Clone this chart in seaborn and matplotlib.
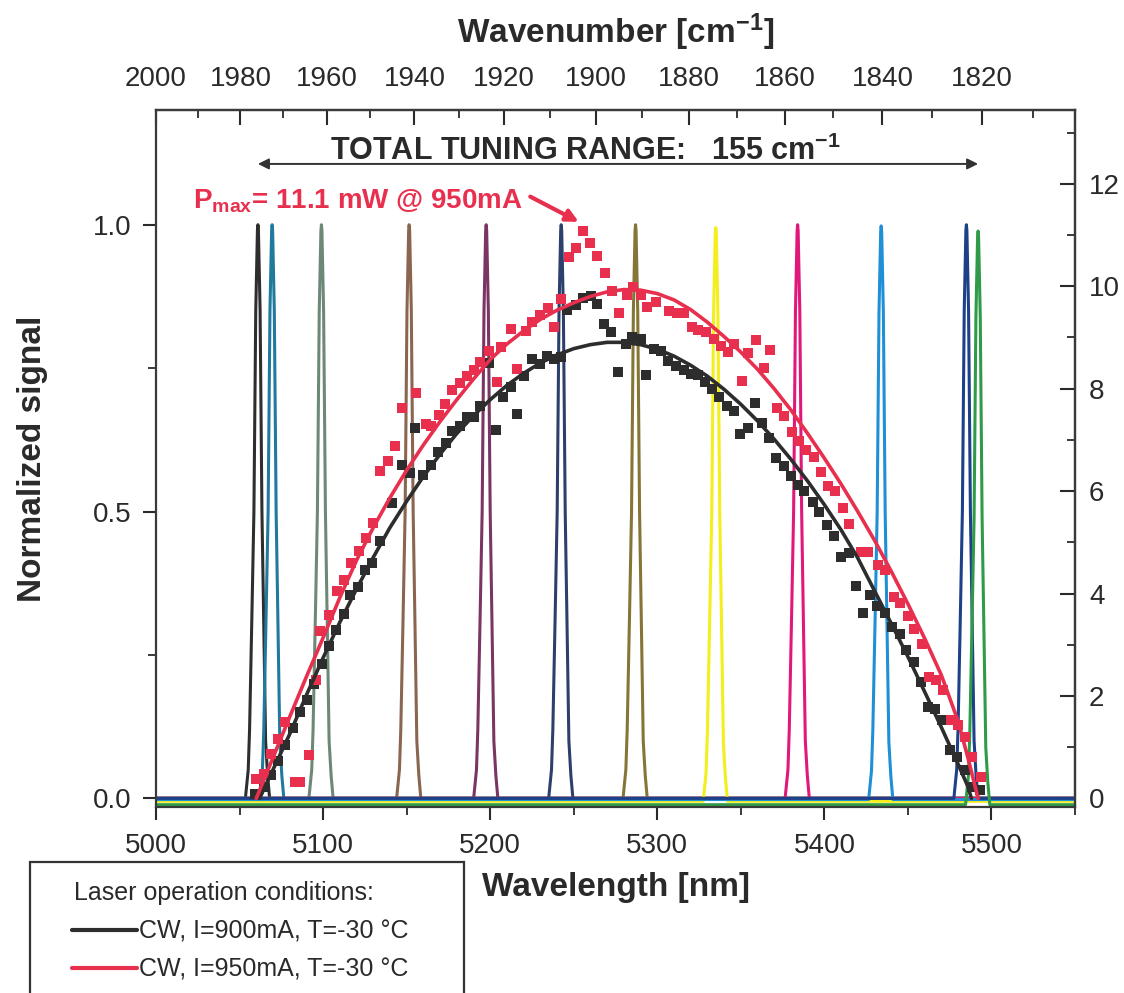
import numpy as np
import pandas as pd
import matplotlib
matplotlib.use("Agg")
import matplotlib.pyplot as plt
import seaborn as sns
from matplotlib.ticker import FixedLocator, MultipleLocator, FormatStrFormatter
from matplotlib.lines import Line2D
from matplotlib.patches import Rectangle

# ---------------- data ----------------
# emission spectra (normalized) : peak centres [nm] and colours
PEAK_CENTERS = [5061, 5069.5, 5099, 5151.5, 5197.6, 5242.5, 5287, 5335, 5384, 5434, 5485, 5492]
PEAK_COLORS = ["#2e2e2e", "#1f7a9e", "#6e8878", "#8a6650", "#7a3562", "#2d3f6c",
               "#857536", "#f4ee1c", "#e0187c", "#1f8fd6", "#1d4088", "#2f9a48"]
PEAK_BASELINES = [0.0, 0.0, 0.0, 0.0, 0.0, 0.0, 0.0, -0.005, 0.0, -0.002, 0.0, -0.011]
PROFILE_OFFSETS = [-7.5, -5.8, -5.0, -3.6, -2.4, -1.3, -0.3, 0.0, 0.3, 1.3, 2.4, 3.4, 4.6, 5.8, 7.0]
PROFILE_VALUES = [0.0, 0.05, 0.12, 0.32, 0.50, 0.85, 0.99, 1.0, 0.99, 0.85, 0.50, 0.32, 0.10, 0.04, 0.0]

# output power data points, CW, I=900mA (normalized)
PTS900_WL = [5059.4, 5064.4, 5068.8, 5073.3, 5077.3, 5081.9, 5085.9, 5090.3, 5094.8, 5099.3,
             5103.3, 5107.7, 5112.3, 5116.3, 5120.8, 5125.2, 5129.2, 5134.3, 5141.3, 5147.3,
             5151.9, 5155.3, 5159.9, 5164.3, 5168.7, 5173.3, 5177.3, 5181.9, 5186.3, 5190.2,
             5193.8, 5199.2, 5203.2, 5207.8, 5212.2, 5216.2, 5220.2, 5225.2, 5229.8, 5233.8,
             5238.2, 5242.2, 5246.2, 5251.1, 5255.8, 5260.2, 5264.1, 5268.1, 5272.1, 5276.5,
             5281.1, 5285.1, 5290.1, 5293.5, 5298.1, 5302.2, 5306.5, 5311.1, 5315.8, 5320.1,
             5324.5, 5328.5, 5332.5, 5337.1, 5341.5, 5345.7, 5349.6, 5354.0, 5358.5, 5362.4,
             5367.1, 5371.1, 5375.7, 5380.1, 5384.1, 5388.1, 5393.1, 5397.0, 5401.7, 5405.7,
             5410.1, 5415.0, 5419.1, 5423.0, 5427.6, 5431.7, 5436.5, 5440.4, 5445.0, 5449.0,
             5453.6, 5458.0, 5462.0, 5466.0, 5470.4, 5475.0, 5479.6, 5484.0, 5488.4, 5493.0]
PTS900_SIG = [0.008, 0.020, 0.040, 0.066, 0.093, 0.122, 0.151, 0.172, 0.200, 0.235,
              0.266, 0.294, 0.321, 0.355, 0.369, 0.399, 0.410, 0.448, 0.515, 0.582,
              0.568, 0.645, 0.564, 0.582, 0.603, 0.620, 0.640, 0.650, 0.664, 0.665,
              0.684, 0.759, 0.643, 0.699, 0.717, 0.670, 0.737, 0.766, 0.757, 0.772,
              0.766, 0.769, 0.852, 0.860, 0.872, 0.875, 0.862, 0.827, 0.813, 0.743,
              0.792, 0.804, 0.801, 0.738, 0.783, 0.780, 0.763, 0.754, 0.747, 0.740,
              0.738, 0.725, 0.713, 0.699, 0.684, 0.675, 0.635, 0.646, 0.690, 0.654,
              0.629, 0.594, 0.580, 0.562, 0.547, 0.536, 0.516, 0.500, 0.476, 0.457,
              0.421, 0.428, 0.371, 0.323, 0.355, 0.336, 0.323, 0.298, 0.287, 0.259,
              0.238, 0.203, 0.160, 0.155, 0.136, 0.085, 0.072, 0.049, 0.019, 0.015]

# output power data points, CW, I=950mA (normalized)
PTS950_WL = [5060.0, 5064.7, 5068.8, 5073.0, 5077.3, 5083.3, 5086.3, 5091.3, 5095.9, 5098.3,
             5103.3, 5108.3, 5112.7, 5116.9, 5121.3, 5125.9, 5129.9, 5134.3, 5138.9, 5142.9,
             5147.3, 5155.9, 5161.3, 5164.7, 5169.3, 5172.9, 5177.3, 5181.9, 5186.3, 5190.2,
             5194.2, 5199.2, 5204.2, 5206.5, 5212.2, 5216.2, 5221.2, 5225.2, 5229.8, 5234.6,
             5238.2, 5242.6, 5247.2, 5251.1, 5255.8, 5259.7, 5264.1, 5268.5, 5273.1, 5277.1,
             5281.8, 5285.7, 5290.5, 5294.1, 5299.1, 5307.1, 5312.1, 5316.1, 5320.5, 5324.5,
             5329.1, 5333.7, 5338.1, 5342.1, 5346.1, 5350.5, 5354.5, 5359.1, 5363.7, 5367.7,
             5371.7, 5376.1, 5380.5, 5385.0, 5389.1, 5393.6, 5398.1, 5402.1, 5406.5, 5411.0,
             5415.0, 5422.1, 5426.0, 5431.9, 5436.3, 5441.5, 5445.5, 5449.9, 5453.9, 5458.4,
             5462.9, 5466.9, 5470.9, 5475.9, 5479.9, 5484.3, 5488.4, 5493.5]
PTS950_SIG = [0.034, 0.043, 0.078, 0.104, 0.133, 0.029, 0.029, 0.075, 0.206, 0.291,
              0.320, 0.361, 0.381, 0.410, 0.431, 0.454, 0.480, 0.570, 0.588, 0.614,
              0.680, 0.706, 0.652, 0.649, 0.668, 0.688, 0.712, 0.724, 0.737, 0.747,
              0.760, 0.780, 0.725, 0.787, 0.818, 0.748, 0.815, 0.830, 0.843, 0.855,
              0.821, 0.871, 0.944, 0.960, 0.989, 0.968, 0.945, 0.916, 0.885, 0.846,
              0.878, 0.892, 0.878, 0.856, 0.865, 0.850, 0.846, 0.846, 0.821, 0.817,
              0.813, 0.801, 0.788, 0.779, 0.792, 0.728, 0.776, 0.799, 0.750, 0.781,
              0.680, 0.667, 0.639, 0.623, 0.608, 0.595, 0.569, 0.545, 0.536, 0.507,
              0.479, 0.429, 0.429, 0.407, 0.399, 0.351, 0.340, 0.318, 0.295, 0.269,
              0.212, 0.206, 0.189, 0.136, 0.128, 0.107, 0.073, 0.037]

# fitted tuning curves
FIT900_WL = [5062, 5070, 5080, 5090, 5100, 5110, 5120, 5130, 5140, 5150, 5160, 5170, 5180,
             5190, 5200, 5210, 5220, 5230, 5240, 5250, 5260, 5270, 5280, 5290, 5300, 5310,
             5320, 5330, 5340, 5350, 5360, 5370, 5380, 5390, 5400, 5410, 5420, 5430, 5440,
             5450, 5460, 5470, 5480, 5486, 5488]
FIT900_SIG = [0.000, 0.050, 0.112, 0.180, 0.245, 0.307, 0.365, 0.420, 0.472, 0.518, 0.561, 0.600, 0.636,
              0.667, 0.695, 0.720, 0.741, 0.759, 0.773, 0.784, 0.791, 0.795, 0.795, 0.791, 0.783, 0.771,
              0.755, 0.736, 0.713, 0.687, 0.658, 0.626, 0.591, 0.553, 0.512, 0.468, 0.419, 0.362, 0.305,
              0.247, 0.186, 0.124, 0.060, 0.020, 0.000]
FIT950_WL = [5060, 5070, 5080, 5090, 5100, 5110, 5120, 5130, 5140, 5150, 5160, 5170, 5180,
             5190, 5200, 5210, 5220, 5230, 5240, 5250, 5260, 5270, 5280, 5290, 5300, 5310,
             5320, 5330, 5340, 5350, 5360, 5370, 5380, 5390, 5400, 5410, 5420, 5430, 5440,
             5450, 5460, 5470, 5480, 5486, 5492]
FIT950_SIG = [0.000, 0.071, 0.142, 0.212, 0.280, 0.350, 0.415, 0.472, 0.524, 0.572, 0.616, 0.657, 0.695,
              0.731, 0.765, 0.792, 0.815, 0.835, 0.851, 0.864, 0.875, 0.883, 0.887, 0.886, 0.880, 0.869,
              0.852, 0.830, 0.805, 0.778, 0.748, 0.714, 0.677, 0.636, 0.593, 0.548, 0.500, 0.450, 0.396,
              0.339, 0.279, 0.215, 0.135, 0.070, 0.000]

LEGEND_TITLE = "Laser operation conditions:"
LEGEND_LABELS = ["CW, I=900mA, T=-30 \u00b0C", "CW, I=950mA, T=-30 \u00b0C"]
WAVENUMBER_TICKS = [2000, 1980, 1960, 1940, 1920, 1900, 1880, 1860, 1840, 1820]
POWER_SCALE = 11.2  # mW per unit of normalized signal (right axis)

RED = "#e8304e"
DARK = "#2d2d2d"
TXT = "#2a2a2a"

# ---------------- style ----------------
sns.set_theme(style="white")
plt.rcParams["font.family"] = ["Liberation Sans", "DejaVu Sans"]
plt.rcParams["mathtext.fontset"] = "custom"
plt.rcParams["mathtext.rm"] = "Liberation Sans"
plt.rcParams["mathtext.bf"] = "Liberation Sans:bold"
plt.rcParams["mathtext.it"] = "Liberation Sans:italic"
plt.rcParams["text.color"] = TXT

fig = plt.figure(figsize=(11.24, 9.93), dpi=100)
W, H = 1124.0, 993.0
ax = fig.add_axes([156 / W, 1 - 807 / H, (1075 - 156) / W, (807 - 110) / H])

# spectra
for c, col, b in zip(PEAK_CENTERS, PEAK_COLORS, PEAK_BASELINES):
    xs = [5000.0] + [c + o for o in PROFILE_OFFSETS] + [5550.0]
    ys = [b] + [b + v for v in PROFILE_VALUES] + [b]
    sns.lineplot(x=xs, y=ys, color=col, lw=2.2, ax=ax, estimator=None, sort=False, zorder=1)

# data points
sns.scatterplot(x=PTS900_WL, y=PTS900_SIG, marker="s", s=42, color=DARK, linewidth=0, ax=ax, zorder=3)
sns.scatterplot(x=PTS950_WL, y=PTS950_SIG, marker="s", s=42, color=RED, linewidth=0, ax=ax, zorder=3)

# fitted curves
sns.lineplot(x=FIT900_WL, y=FIT900_SIG, color=DARK, lw=2.6, ax=ax, estimator=None, sort=False, zorder=4)
sns.lineplot(x=FIT950_WL, y=FIT950_SIG, color=RED, lw=2.6, ax=ax, estimator=None, sort=False, zorder=4)

ax.set_xlim(5000, 5550)
ax.set_ylim(-0.015, 1.2)

# main axis ticks
ax.xaxis.set_major_locator(FixedLocator([5000, 5100, 5200, 5300, 5400, 5500]))
ax.xaxis.set_minor_locator(MultipleLocator(50))
ax.yaxis.set_major_locator(FixedLocator([0.0, 0.5, 1.0]))
ax.yaxis.set_minor_locator(FixedLocator([0.25, 0.75]))
ax.yaxis.set_major_formatter(FormatStrFormatter("%.1f"))
ax.tick_params(axis="both", which="major", direction="out", length=9.5, width=1.5,
               labelsize=20, colors=TXT, bottom=True, left=True, top=False, right=False)
ax.tick_params(axis="both", which="minor", direction="out", length=6, width=1.3,
               bottom=True, left=True, top=False, right=False, colors=TXT)
ax.tick_params(axis="x", which="major", pad=9)
ax.tick_params(axis="y", which="major", pad=8)
for sp in ax.spines.values():
    sp.set_visible(True)
    sp.set_color("#3a3a3a")
    sp.set_linewidth(1.6)

ax.set_xlabel("Wavelength [nm]", fontsize=24, fontweight="bold", color=TXT)
ax.xaxis.set_label_coords(0.5, -0.1148)
ax.xaxis.label.set_va("center")
ax.set_ylabel("Normalized signal", fontsize=24, fontweight="bold", color=TXT)
ax.yaxis.set_label_coords(-0.117, 0.5)

# top axis: wavenumber
top = ax.secondary_xaxis("top", functions=(lambda x: 1e7 / np.asarray(x, dtype=float),
                                           lambda k: 1e7 / np.asarray(k, dtype=float)))
top.xaxis.set_major_locator(FixedLocator(WAVENUMBER_TICKS))
top.xaxis.set_minor_locator(FixedLocator(list(range(2000, 1800, -10))))
top.xaxis.set_major_formatter(FormatStrFormatter("%d"))
top.tick_params(axis="x", which="major", direction="in", length=11, width=1.5, labelsize=20,
                pad=13, colors=TXT)
top.tick_params(axis="x", which="minor", direction="in", length=6, width=1.3, colors=TXT)
top.spines["top"].set_color("#3a3a3a")
top.spines["top"].set_linewidth(1.6)
top.set_xlabel(r"Wavenumber [cm$^{\mathbf{-1}}$]", fontsize=24, fontweight="bold", color=TXT)
top.xaxis.set_label_coords(0.5, (807 - 32) / 697.0, transform=ax.transAxes)
top.xaxis.label.set_va("center")

# right axis: power (mW)
right = ax.secondary_yaxis("right", functions=(lambda v: np.asarray(v) * POWER_SCALE,
                                               lambda p: np.asarray(p) / POWER_SCALE))
right.yaxis.set_major_locator(MultipleLocator(2))
right.yaxis.set_minor_locator(MultipleLocator(1))
right.yaxis.set_major_formatter(FormatStrFormatter("%d"))
right.tick_params(axis="y", which="major", direction="in", length=11, width=1.5, labelsize=20,
                  pad=10, colors=TXT)
right.tick_params(axis="y", which="minor", direction="in", length=6, width=1.3, colors=TXT)
right.spines["right"].set_color("#3a3a3a")
right.spines["right"].set_linewidth(1.6)

# total tuning range annotation
ax.annotate("", xy=(PEAK_CENTERS[-1], 1.106), xytext=(PEAK_CENTERS[0], 1.106),
            arrowprops=dict(arrowstyle="<|-|>", color="#333333", lw=1.4,
                            mutation_scale=16, shrinkA=0, shrinkB=0), zorder=5)
ax.text(5257, 1.112, r"TOTAL TUNING RANGE:   155 cm$^{\mathbf{-1}}$", fontsize=22,
        fontweight="bold", ha="center", va="baseline", color=TXT)

# P max annotation
ax.text(5022, 1.028, r"P$_{\mathbf{max}}$= 11.1 mW @ 950mA", fontsize=20, fontweight="bold",
        color=RED, ha="left", va="baseline")
ax.annotate("", xy=(5253, 1.005), xytext=(5224, 1.049),
            arrowprops=dict(arrowstyle="-|>", color=RED, lw=3, mutation_scale=18,
                            shrinkA=0, shrinkB=0), zorder=5)

# legend with rectangular frame (extends beyond figure bottom as in the reference)
fig.patches.append(Rectangle((30 / W, -0.05), (464 - 30) / W, (1 - 862 / H) + 0.05,
                             transform=fig.transFigure, fill=False, edgecolor="#333333",
                             linewidth=1.6))
fig.text(74 / W, 1 - 893 / H, LEGEND_TITLE, fontsize=18, color=TXT, ha="left", va="center")
handles = [Line2D([], [], color=DARK, lw=3), Line2D([], [], color=RED, lw=3)]
leg = fig.legend(handles, LEGEND_LABELS, loc="upper left",
                 bbox_to_anchor=(59 / W, 1 - 907 / H), frameon=False,
                 fontsize=18, handlelength=2.6, handletextpad=0.1,
                 labelspacing=0.55, borderpad=0)
for t in leg.get_texts():
    t.set_color(TXT)

fig.savefig("out.png", dpi=100)
